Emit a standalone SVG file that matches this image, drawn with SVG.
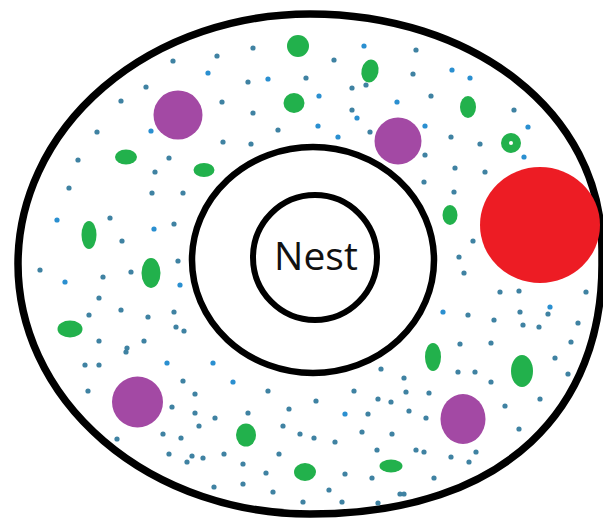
<svg xmlns="http://www.w3.org/2000/svg" width="603" height="525" viewBox="0 0 603 525">
<style>
.ring{fill:none;stroke:#000;}
.g{fill:#22b14c;}
.p{fill:#a349a4;}
.d circle{r:2.6px;}
.b{fill:#2a8fd0;}
.t{fill:#3f82a2;}
.lbl{font-family:"Open Sans","Noto Sans","DejaVu Sans",sans-serif;font-size:39px;fill:#111;text-anchor:middle;}
</style>
<rect width="603" height="525" fill="#fff"/>
<g id="territory">
<path class="ring" stroke-width="7.5" d="M310,14 C470,14 602,110 602,250 L602,265 C602,405 510,514 310,514 A292,250 0 0 1 310,14 Z"/>
</g>
<g id="dots" class="d">
<g class="t">
<circle cx="173" cy="61"/><circle cx="146" cy="87"/><circle cx="121" cy="101"/><circle cx="97" cy="132"/><circle cx="78" cy="160"/><circle cx="169" cy="158"/><circle cx="155" cy="172"/>
<circle cx="253" cy="48"/><circle cx="217" cy="56"/><circle cx="334" cy="60"/><circle cx="248" cy="82"/><circle cx="306" cy="78"/><circle cx="352" cy="88"/><circle cx="366" cy="85"/><circle cx="222" cy="102"/><circle cx="253" cy="113"/><circle cx="352" cy="110"/><circle cx="278" cy="130"/><circle cx="223" cy="142"/><circle cx="251" cy="144"/><circle cx="370" cy="132"/>
<circle cx="416" cy="50"/><circle cx="413" cy="74"/><circle cx="431" cy="96"/><circle cx="514" cy="110"/><circle cx="451" cy="137"/><circle cx="480" cy="144"/><circle cx="425" cy="155"/><circle cx="455" cy="168"/><circle cx="485" cy="172"/>
<circle cx="69" cy="188"/><circle cx="152" cy="193"/><circle cx="183" cy="193"/><circle cx="110" cy="218"/><circle cx="174" cy="224"/><circle cx="122" cy="241"/><circle cx="40" cy="270"/><circle cx="131" cy="272"/><circle cx="178" cy="261"/><circle cx="103" cy="277"/><circle cx="99" cy="298"/><circle cx="89" cy="315"/><circle cx="121" cy="310"/><circle cx="148" cy="317"/><circle cx="174" cy="312"/><circle cx="176" cy="327"/><circle cx="184" cy="331"/><circle cx="99" cy="341"/><circle cx="144" cy="341"/><circle cx="127" cy="348"/>
<circle cx="424" cy="182"/><circle cx="454" cy="192"/><circle cx="473" cy="241"/><circle cx="459" cy="257"/><circle cx="464" cy="273"/><circle cx="500" cy="292"/><circle cx="519" cy="291"/><circle cx="586" cy="292"/><circle cx="468" cy="315"/><circle cx="494" cy="320"/><circle cx="520" cy="312"/><circle cx="548" cy="314"/><circle cx="523" cy="325"/><circle cx="539" cy="327"/><circle cx="578" cy="323"/><circle cx="460" cy="344"/><circle cx="491" cy="343"/><circle cx="571" cy="342"/>
<circle cx="126" cy="352"/><circle cx="85" cy="365"/><circle cx="99" cy="365"/><circle cx="183" cy="381"/><circle cx="88" cy="391"/><circle cx="195" cy="394"/><circle cx="172" cy="407"/><circle cx="195" cy="413"/><circle cx="199" cy="426"/><circle cx="163" cy="434"/><circle cx="181" cy="438"/><circle cx="117" cy="439"/><circle cx="169" cy="454"/><circle cx="192" cy="456"/><circle cx="187" cy="462"/>
<circle cx="268" cy="391"/><circle cx="316" cy="401"/><circle cx="289" cy="409"/><circle cx="354" cy="391"/><circle cx="381" cy="369"/><circle cx="378" cy="399"/><circle cx="391" cy="402"/><circle cx="215" cy="418"/><circle cx="248" cy="413"/><circle cx="368" cy="414"/><circle cx="283" cy="426"/><circle cx="300" cy="434"/><circle cx="314" cy="438"/><circle cx="362" cy="432"/><circle cx="392" cy="434"/><circle cx="335" cy="442"/><circle cx="377" cy="450"/><circle cx="224" cy="454"/><circle cx="279" cy="454"/><circle cx="203" cy="458"/><circle cx="243" cy="464"/><circle cx="266" cy="473"/><circle cx="345" cy="474"/><circle cx="372" cy="478"/><circle cx="243" cy="484"/><circle cx="214" cy="487"/><circle cx="273" cy="492"/><circle cx="329" cy="490"/><circle cx="303" cy="502"/><circle cx="342" cy="502"/><circle cx="378" cy="503"/><circle cx="400" cy="494"/>
<circle cx="458" cy="372"/><circle cx="475" cy="372"/><circle cx="491" cy="382"/><circle cx="404" cy="378"/><circle cx="406" cy="392"/><circle cx="429" cy="393"/><circle cx="409" cy="411"/><circle cx="426" cy="418"/><circle cx="505" cy="406"/><circle cx="540" cy="399"/><circle cx="555" cy="358"/><circle cx="568" cy="374"/><circle cx="519" cy="429"/><circle cx="416" cy="450"/><circle cx="424" cy="452"/><circle cx="451" cy="457"/><circle cx="469" cy="462"/><circle cx="476" cy="452"/><circle cx="434" cy="478"/><circle cx="404" cy="494"/>
</g>
<g class="b">
<circle cx="151" cy="131"/><circle cx="364" cy="46"/><circle cx="208" cy="73"/><circle cx="268" cy="79"/><circle cx="319" cy="96"/><circle cx="357" cy="118"/><circle cx="397" cy="102"/><circle cx="318" cy="126"/><circle cx="338" cy="137"/>
<circle cx="452" cy="70"/><circle cx="470" cy="78"/><circle cx="425" cy="126"/><circle cx="528" cy="127"/><circle cx="524" cy="157"/>
<circle cx="57" cy="220"/><circle cx="154" cy="229"/><circle cx="65" cy="282"/><circle cx="180" cy="285"/>
<circle cx="443" cy="312"/><circle cx="550" cy="307"/>
<circle cx="167" cy="363"/><circle cx="213" cy="363"/><circle cx="233" cy="382"/><circle cx="345" cy="414"/>
</g>
</g>
<g id="food">
<ellipse class="g" cx="298" cy="46" rx="11" ry="11"/>
<ellipse class="g" cx="370" cy="71" rx="8.5" ry="11.5" transform="rotate(12 370 71)"/>
<ellipse class="g" cx="294" cy="103" rx="10.5" ry="10"/>
<ellipse class="g" cx="468" cy="107" rx="8" ry="11"/>
<circle class="g" cx="511" cy="143" r="10"/>
<circle cx="511" cy="143" r="2" fill="#fff"/>
<ellipse class="g" cx="126" cy="157" rx="11" ry="7.5"/>
<ellipse class="g" cx="204" cy="170" rx="10.5" ry="7"/>
<ellipse class="g" cx="450" cy="215" rx="7.5" ry="10"/>
<ellipse class="g" cx="89" cy="235" rx="7.5" ry="14"/>
<ellipse class="g" cx="151" cy="273" rx="9.5" ry="15"/>
<ellipse class="g" cx="70" cy="329" rx="12.5" ry="8.5"/>
<ellipse class="g" cx="433" cy="357" rx="8" ry="14"/>
<ellipse class="g" cx="522" cy="371" rx="11" ry="16"/>
<ellipse class="g" cx="246" cy="435" rx="10" ry="11.5"/>
<ellipse class="g" cx="305" cy="472" rx="11" ry="9"/>
<ellipse class="g" cx="391" cy="466" rx="11.5" ry="6.5"/>
</g>
<g id="purple">
<circle class="p" cx="178" cy="115" r="24.5"/>
<circle class="p" cx="398" cy="141" r="23.5"/>
<circle class="p" cx="137.5" cy="402" r="25.5"/>
<ellipse class="p" cx="463" cy="419" rx="22.5" ry="25"/>
</g>
<g id="red">
<ellipse cx="540" cy="225" rx="60" ry="58" fill="#ed1c24"/>
</g>
<g id="middle-ring">
<ellipse class="ring" stroke-width="6.5" cx="313" cy="260" rx="121" ry="113"/>
</g>
<g id="nest">
<ellipse class="ring" stroke-width="6" cx="315" cy="257.5" rx="62" ry="62.5"/>
<text class="lbl" x="316" y="269.5">Nest</text>
</g>
</svg>
